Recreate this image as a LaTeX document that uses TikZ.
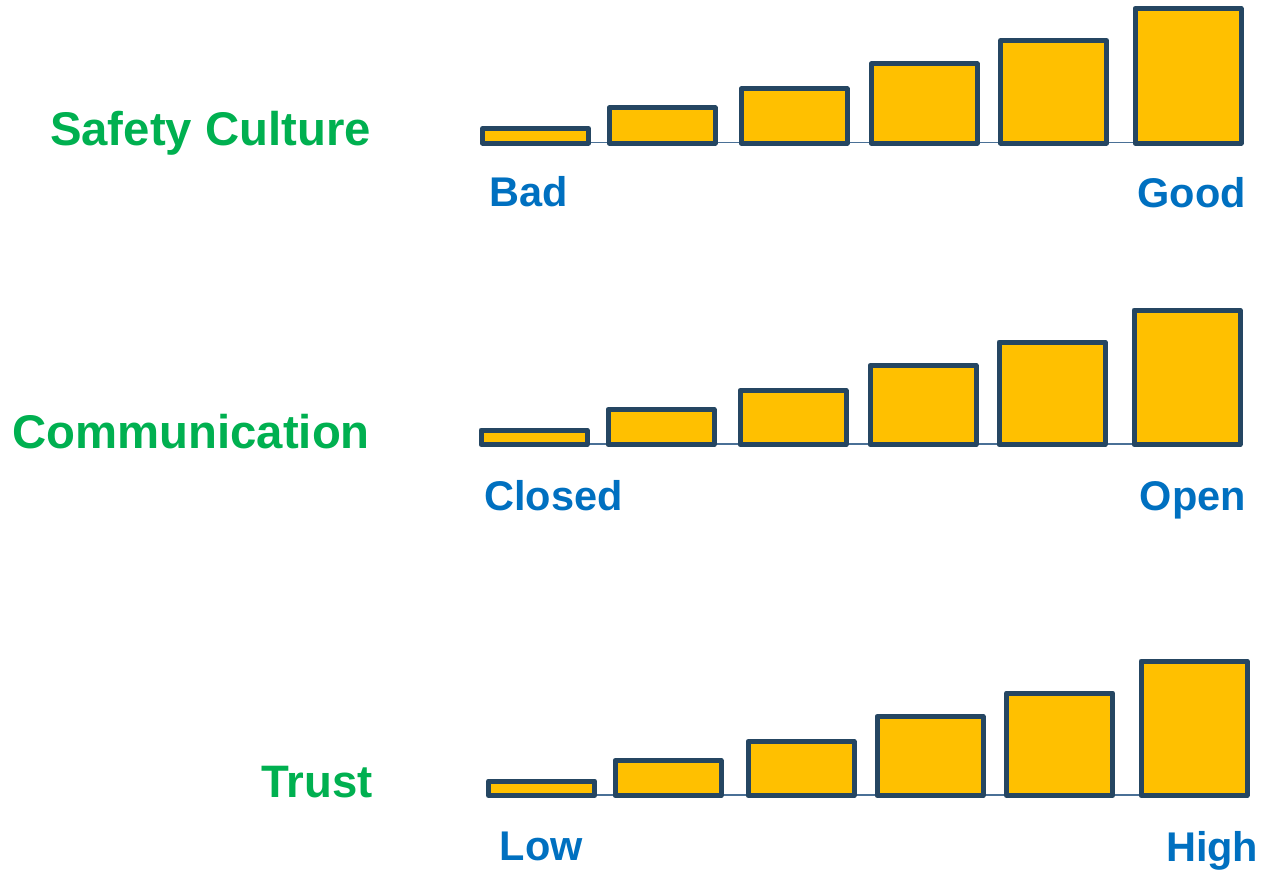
\documentclass[tikz,border=0pt]{standalone}
\usepackage{fontspec}
\setmainfont{Liberation Sans}
\usepackage{tikz}
\usetikzlibrary{positioning,backgrounds}
\definecolor{safegreen}{HTML}{00B050}
\definecolor{scaleblue}{HTML}{0070C0}
\definecolor{baryellow}{HTML}{FFC000}
\definecolor{barline}{HTML}{254662}
\definecolor{axisline}{HTML}{4A7096}
\tikzset{
bar/.style = {rectangle, draw=barline, fill=baryellow, line width=5pt, line join=round,
  minimum width=106pt, minimum height=#1, inner sep=0pt, outer sep=0pt, anchor=south west},
bar/.default = 20pt % height of the bar
}
\tikzset{rowlabel/.style={text=safegreen, font=\fontsize{#1}{#1}\selectfont\bfseries, inner sep=0pt, anchor=base east}}
\tikzset{rowlabel/.default=47.3}
\tikzset{scalelabel/.style={text=scaleblue, font=\fontsize{41.5}{41.5}\selectfont\bfseries, inner sep=0pt}}
\tikzset{axis/.style={draw=axisline, line width=1.5pt}}

\begin{document}
\begin{tikzpicture}[x=1pt, y=-1pt]
      \useasboundingbox (0,0) rectangle (1268,872);
      % safety culture
      \node [rowlabel] (safety) at (371,145) {Safety Culture};
      \node [bar=14.5pt] (s1) at (482.5,143) {};
      \node [bar=35pt]   (s2) at (609,143) {};
      \node [bar=54pt]   (s3) at (741,143) {};
      \node [bar=79pt]   (s4) at (871,143) {};
      \node [bar=102.5pt] (s5) at (1000.5,143) {};
      \node [bar=134.5pt] (s6) at (1135,143) {};
      \node [scalelabel, anchor=base west] (bad) at (489.5,206) {Bad};
      \node [scalelabel, anchor=base east] (good) at (1246,207) {Good};
      % communication
      \node [rowlabel] (comm) at (370,448) {Communication};
      \node [bar=14.5pt] (c1) at (481,444.5) {};
      \node [bar=35pt]   (c2) at (608,444.5) {};
      \node [bar=54pt]   (c3) at (740,444.5) {};
      \node [bar=79pt]   (c4) at (870,444.5) {};
      \node [bar=102.5pt] (c5) at (999,444.5) {};
      \node [bar=134.5pt] (c6) at (1134,444.5) {};
      \node [scalelabel, anchor=base west] (closed) at (484,510) {Closed};
      \node [scalelabel, anchor=base east] (open) at (1246,510) {Open};
      % trust
      \node [rowlabel=45.5] (trust) at (373,797) {Trust};
      \node [bar=14.5pt] (t1) at (488.5,795.5) {};
      \node [bar=35pt]   (t2) at (615,795.5) {};
      \node [bar=54pt]   (t3) at (748,795.5) {};
      \node [bar=79pt]   (t4) at (877,795.5) {};
      \node [bar=102.5pt] (t5) at (1006.5,795.5) {};
      \node [bar=134.5pt] (t6) at (1141,795.5) {};
      \node [scalelabel, anchor=base west] (low) at (499.5,860) {Low};
      \node [scalelabel, anchor=base east] (high) at (1258.5,861) {High};
      % base lines behind the bars
      \begin{scope}[on background layer]
        \draw [axis] ([yshift=0.5pt]s1.south) -- ([yshift=0.5pt]s6.south);
        \draw [axis] ([yshift=0.5pt]c1.south) -- ([yshift=0.5pt]c6.south);
        \draw [axis] ([yshift=0.5pt]t1.south) -- ([yshift=0.5pt]t6.south);
      \end{scope}
\end{tikzpicture}
\end{document}
